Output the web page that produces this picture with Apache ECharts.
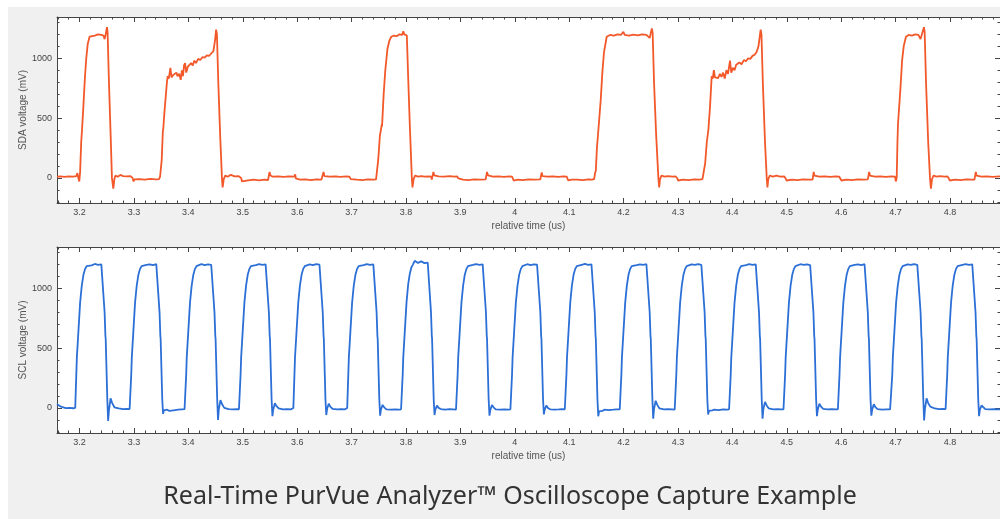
<!DOCTYPE html>
<html>
<head>
<meta charset="utf-8">
<script src="https://cdn.jsdelivr.net/npm/echarts@6/dist/echarts.min.js"></script>
<style>
html,body{margin:0;padding:0;background:#ffffff;}
#panel{position:absolute;left:8px;top:7px;width:992px;height:512px;background:#f0f0f0;}
#chart{position:absolute;left:0;top:0;width:1000px;height:519px;}
</style>
</head>
<body>
<div id="panel"></div>
<div id="chart"></div>
<script>
// ---- data ----
const titleText = 'Real-Time PurVue Analyzer\u2122 Oscilloscope Capture Example';
const sdaName = 'SDA voltage (mV)';
const sclName = 'SCL voltage (mV)';
const timeName = 'relative time (us)';
const timeRange = [3.1585, 4.892];
const voltRange = [-210, 1345];

const sdaPoints = [
[3.1585,10],[3.165,12],[3.172,8],[3.180,12],[3.188,10],[3.194,14],[3.196,40],[3.1975,5],[3.1995,-30],[3.201,50],[3.203,300],[3.2045,400],[3.205,390],[3.207,600],[3.210,850],[3.2123,1000],[3.215,1120],[3.2184,1180],[3.222,1195],[3.228,1190],[3.234,1200],[3.240,1195],[3.244,1190],[3.246,1160],[3.248,1200],[3.2503,1260],[3.2515,1220],[3.254,800],[3.2575,300],[3.2595,0],[3.262,-90],[3.264,-10],[3.266,20],[3.270,10],[3.275,25],[3.280,15],[3.287,12],[3.293,15],[3.296,30],[3.2975,0],[3.2992,-30],[3.301,-12],[3.310,-10],[3.320,-15],[3.330,-8],[3.340,-12],[3.346,-10],
[3.348,10],[3.351,150],[3.353,380],[3.354,420],[3.356,550],[3.3606,800],[3.362,850],[3.364,830],[3.367,920],[3.369,840],[3.372,860],[3.375,845],[3.378,880],[3.380,850],[3.383,870],[3.386,820],[3.388,900],[3.390,850],[3.392,940],[3.394,960],[3.396,880],[3.399,930],[3.402,920],[3.405,960],[3.408,940],[3.411,980],[3.414,960],[3.418,995],[3.422,985],[3.426,1010],[3.430,1005],[3.434,1025],[3.438,1020],[3.442,1040],[3.446,1060],[3.449,1150],[3.451,1240],[3.4525,1200],[3.455,800],[3.4585,350],[3.4617,0],[3.463,-80],[3.465,-10],[3.468,20],[3.472,10],[3.478,25],[3.485,12],[3.492,15],[3.4953,30],[3.497,0],[3.4985,-30],[3.500,-15],[3.510,-20],[3.520,-15],[3.530,-20],[3.540,-15],[3.5465,-18],[3.5475,-25],[3.5492,50],[3.551,20],[3.555,10],[3.565,12],[3.575,8],[3.585,12],[3.5945,10],[3.5964,30],[3.5975,-5],[3.599,-20],[3.605,-15],[3.615,-12],[3.625,-18],[3.635,-12],[3.6445,-15],[3.6455,-25],[3.6485,50],[3.650,15],[3.660,10],[3.670,12],[3.680,8],[3.690,12],[3.696,10],[3.6974,25],[3.6985,-10],[3.700,-22],[3.710,-15],[3.720,-18],[3.730,-12],[3.740,-15],[3.745,-12],
[3.7465,0],[3.749,150],[3.752,350],[3.7557,450],[3.756,430],[3.759,700],[3.762,900],[3.766,1080],[3.7697,1150],[3.773,1180],[3.778,1190],[3.783,1185],[3.788,1200],[3.791,1215],[3.793,1195],[3.795,1225],[3.797,1200],[3.799,1215],[3.8016,1190],[3.804,850],[3.807,450],[3.8108,0],[3.812,-80],[3.814,-10],[3.817,20],[3.822,10],[3.828,15],[3.835,10],[3.842,12],[3.8465,10],[3.8475,-15],[3.8505,50],[3.852,20],[3.860,12],[3.870,10],[3.880,14],[3.889,10],[3.894,12],[3.8955,25],[3.8964,-5],[3.898,-20],[3.905,-15],[3.915,-18],[3.925,-12],[3.935,-15],[3.9465,-12],[3.9473,-20],[3.949,50],[3.951,20],[3.960,10],[3.970,12],[3.980,8],[3.990,12],[3.995,10],[3.9964,-5],[3.998,-22],[4.005,-15],[4.015,-18],[4.025,-12],[4.035,-15],[4.047,-12],[4.048,-20],[4.0495,45],[4.051,15],[4.060,10],[4.070,12],[4.080,8],[4.090,12],[4.0955,10],[4.0968,20],[4.098,-20],[4.105,-15],[4.115,-15],[4.125,-18],[4.135,-12],[4.142,-15],[4.146,-10],[4.1475,40],
[4.149,60],[4.151,250],[4.1537,400],[4.155,410],[4.158,650],[4.161,880],[4.164,1050],[4.169,1180],[4.175,1195],[4.182,1190],[4.189,1200],[4.195,1195],[4.1997,1222],[4.202,1195],[4.210,1190],[4.218,1198],[4.226,1192],[4.234,1200],[4.242,1195],[4.2456,1190],[4.248,1170],[4.250,1210],[4.252,1250],[4.2535,1210],[4.256,800],[4.260,350],[4.264,0],[4.2655,-80],[4.267,-10],[4.270,20],[4.275,10],[4.282,15],[4.290,10],[4.296,12],[4.2978,25],[4.299,-5],[4.300,-22],[4.310,-15],[4.320,-18],[4.330,-12],[4.340,-15],[4.345,-10],
[4.3467,5],[4.350,120],[4.353,300],[4.3559,400],[4.357,390],[4.359,600],[4.362,850],[4.364,830],[4.366,900],[4.368,840],[4.371,855],[4.374,835],[4.377,870],[4.380,845],[4.383,880],[4.386,830],[4.389,900],[4.392,870],[4.3957,980],[4.398,880],[4.401,920],[4.404,900],[4.407,945],[4.410,930],[4.413,965],[4.417,950],[4.421,985],[4.425,975],[4.429,1000],[4.433,995],[4.437,1020],[4.441,1030],[4.4448,1055],[4.448,1100],[4.452,1240],[4.4535,1200],[4.456,800],[4.460,300],[4.4632,0],[4.4645,-80],[4.466,-10],[4.469,20],[4.474,10],[4.481,18],[4.488,10],[4.4955,12],[4.4968,28],[4.498,-5],[4.4995,-22],[4.510,-15],[4.520,-18],[4.530,-12],[4.540,-15],[4.5475,-15],[4.548,-22],[4.5495,50],[4.551,18],[4.560,10],[4.570,12],[4.580,8],[4.590,12],[4.5965,10],[4.5978,25],[4.599,-5],[4.6005,-22],[4.610,-15],[4.620,-18],[4.630,-12],[4.640,-15],[4.649,-12],[4.650,-22],[4.6515,50],[4.653,18],[4.662,10],[4.672,12],[4.682,8],[4.692,12],[4.699,10],[4.7005,-30],[4.7021,0],
[4.7035,300],[4.7045,450],[4.706,440],[4.709,750],[4.712,980],[4.715,1100],[4.7191,1180],[4.724,1195],[4.730,1190],[4.736,1200],[4.742,1195],[4.7448,1195],[4.746,1160],[4.749,1210],[4.7522,1260],[4.7535,1220],[4.756,800],[4.760,300],[4.7633,0],[4.765,-90],[4.767,-10],[4.770,20],[4.775,10],[4.782,15],[4.790,10],[4.7955,12],[4.7969,25],[4.798,-5],[4.7995,-22],[4.810,-15],[4.820,-18],[4.830,-12],[4.840,-15],[4.845,-15],[4.8459,-22],[4.8475,50],[4.849,18],[4.858,10],[4.868,12],[4.878,8],[4.892,12]
];

const sclPoints = [
[3.1585,30],[3.162,25],[3.166,10],[3.170,5],[3.175,-2],[3.182,0],[3.188,-3],
[3.191,-5],[3.192,0],[3.194,280],[3.195,420],[3.1955,410],[3.198,650],[3.201,880],[3.204,1020],[3.207,1110],[3.210,1160],[3.213,1185],[3.216,1198],[3.222,1192],[3.228,1203],[3.234,1195],[3.240,1200],[3.243,1196],[3.246,800],[3.2475,600],[3.248,580],[3.251,70],[3.2525,-110],[3.254,-20],[3.257,80],[3.260,40],[3.264,5],[3.272,-5],[3.280,-10],[3.287,-8],
[3.292,-10],[3.293,0],[3.295,280],[3.296,420],[3.2965,410],[3.299,650],[3.302,880],[3.305,1020],[3.308,1110],[3.311,1160],[3.314,1185],[3.317,1198],[3.323,1195],[3.329,1200],[3.335,1193],[3.341,1202],[3.344,1195],[3.347,800],[3.3485,600],[3.349,580],[3.352,70],[3.3535,-50],[3.355,-20],[3.358,-35],[3.361,-15],[3.365,-25],[3.373,-20],[3.381,-15],[3.388,-12],
[3.393,-10],[3.394,0],[3.396,280],[3.397,420],[3.3975,410],[3.400,650],[3.403,880],[3.406,1020],[3.409,1110],[3.412,1160],[3.415,1185],[3.418,1198],[3.424,1202],[3.430,1194],[3.436,1200],[3.442,1196],[3.445,1198],[3.448,800],[3.4495,600],[3.450,580],[3.453,70],[3.4545,-100],[3.456,-10],[3.459,65],[3.462,30],[3.466,0],[3.474,-10],[3.482,-12],[3.489,-10],
[3.493,-12],[3.494,0],[3.496,280],[3.497,420],[3.4975,410],[3.500,650],[3.503,880],[3.506,1020],[3.509,1110],[3.512,1160],[3.515,1185],[3.518,1198],[3.524,1193],[3.530,1201],[3.536,1196],[3.542,1200],[3.545,1195],[3.548,800],[3.5495,600],[3.550,580],[3.553,70],[3.5545,-70],[3.556,-15],[3.559,40],[3.562,15],[3.566,-5],[3.574,-12],[3.582,-10],[3.589,-12],
[3.592,-12],[3.593,0],[3.595,280],[3.596,420],[3.5965,410],[3.599,650],[3.602,880],[3.605,1020],[3.608,1110],[3.611,1160],[3.614,1185],[3.617,1198],[3.623,1200],[3.629,1194],[3.635,1202],[3.641,1197],[3.644,1198],[3.647,800],[3.6485,600],[3.649,580],[3.652,70],[3.6535,-60],[3.655,-10],[3.658,35],[3.661,10],[3.665,-8],[3.673,-12],[3.681,-10],[3.688,-12],
[3.691,-14],[3.692,0],[3.694,280],[3.695,420],[3.6955,410],[3.698,650],[3.701,880],[3.704,1020],[3.707,1110],[3.710,1160],[3.713,1185],[3.716,1198],[3.722,1194],[3.728,1201],[3.734,1195],[3.740,1200],[3.743,1196],[3.746,800],[3.7475,600],[3.748,580],[3.751,70],[3.7525,-65],[3.754,-15],[3.757,25],[3.760,5],[3.764,-12],[3.772,-15],[3.780,-12],[3.787,-14],
[3.791,-12],[3.792,0],[3.794,280],[3.795,420],[3.7955,410],[3.798,650],[3.801,880],[3.804,1030],[3.807,1120],[3.810,1175],[3.813,1200],[3.816,1230],[3.822,1212],[3.828,1225],[3.834,1210],[3.840,1215],[3.843,1205],[3.846,800],[3.8475,600],[3.848,580],[3.851,70],[3.8525,-60],[3.854,-15],[3.857,20],[3.860,0],[3.864,-10],[3.872,-15],[3.880,-10],[3.887,-12],
[3.892,-14],[3.893,0],[3.895,280],[3.896,420],[3.8965,410],[3.899,650],[3.902,880],[3.905,1020],[3.908,1110],[3.911,1160],[3.914,1185],[3.917,1198],[3.923,1195],[3.929,1202],[3.935,1196],[3.941,1200],[3.944,1195],[3.947,800],[3.9485,600],[3.949,580],[3.952,70],[3.9535,-65],[3.955,-20],[3.958,25],[3.961,5],[3.965,-12],[3.973,-15],[3.981,-12],[3.988,-14],
[3.992,-12],[3.993,0],[3.995,280],[3.996,420],[3.9965,410],[3.999,650],[4.002,880],[4.005,1020],[4.008,1110],[4.011,1160],[4.014,1185],[4.017,1198],[4.023,1201],[4.029,1194],[4.035,1200],[4.041,1197],[4.044,1196],[4.047,800],[4.0485,600],[4.049,580],[4.052,70],[4.0535,-55],[4.055,-15],[4.058,20],[4.061,0],[4.065,-12],[4.073,-14],[4.081,-12],[4.088,-10],
[4.092,-12],[4.093,0],[4.095,280],[4.096,420],[4.0965,410],[4.099,650],[4.102,880],[4.105,1020],[4.108,1110],[4.111,1160],[4.114,1185],[4.117,1198],[4.123,1196],[4.129,1203],[4.135,1195],[4.141,1200],[4.144,1196],[4.147,800],[4.1485,600],[4.149,580],[4.152,70],[4.1535,-70],[4.155,-30],[4.158,-20],[4.161,-25],[4.165,-15],[4.173,-18],[4.181,-15],[4.188,-12],
[4.193,-12],[4.194,0],[4.196,280],[4.197,420],[4.1975,410],[4.200,650],[4.203,880],[4.206,1020],[4.209,1110],[4.212,1160],[4.215,1185],[4.218,1198],[4.224,1193],[4.230,1200],[4.236,1195],[4.242,1201],[4.245,1196],[4.248,800],[4.2495,600],[4.250,580],[4.253,70],[4.2545,-90],[4.256,-10],[4.259,60],[4.262,25],[4.266,-5],[4.274,-12],[4.282,-10],[4.289,-12],
[4.294,-14],[4.295,0],[4.297,280],[4.298,420],[4.2985,410],[4.301,650],[4.304,880],[4.307,1020],[4.310,1110],[4.313,1160],[4.316,1185],[4.319,1198],[4.325,1200],[4.331,1195],[4.337,1202],[4.343,1196],[4.346,1198],[4.349,800],[4.3505,600],[4.351,580],[4.354,70],[4.3555,-55],[4.357,-25],[4.360,-15],[4.363,-20],[4.367,-15],[4.375,-18],[4.383,-12],[4.390,-14],
[4.394,-12],[4.395,0],[4.397,280],[4.398,420],[4.3985,410],[4.401,650],[4.404,880],[4.407,1020],[4.410,1110],[4.413,1160],[4.416,1185],[4.419,1198],[4.425,1194],[4.431,1201],[4.437,1196],[4.443,1200],[4.446,1195],[4.449,800],[4.4505,600],[4.451,580],[4.454,70],[4.4555,-90],[4.457,-10],[4.460,50],[4.463,20],[4.467,-5],[4.475,-12],[4.483,-10],[4.490,-12],
[4.494,-12],[4.495,0],[4.497,280],[4.498,420],[4.4985,410],[4.501,650],[4.504,880],[4.507,1020],[4.510,1110],[4.513,1160],[4.516,1185],[4.519,1198],[4.525,1201],[4.531,1195],[4.537,1200],[4.543,1194],[4.546,1197],[4.549,800],[4.5505,600],[4.551,580],[4.554,70],[4.5555,-70],[4.557,-15],[4.560,35],[4.563,10],[4.567,-8],[4.575,-12],[4.583,-10],[4.590,-12],
[4.594,-12],[4.595,0],[4.597,280],[4.598,420],[4.5985,410],[4.601,650],[4.604,880],[4.607,1020],[4.610,1110],[4.613,1160],[4.616,1185],[4.619,1198],[4.625,1195],[4.631,1200],[4.637,1194],[4.643,1201],[4.646,1196],[4.649,800],[4.6505,600],[4.651,580],[4.654,70],[4.6555,-65],[4.657,-15],[4.660,30],[4.663,5],[4.667,-10],[4.675,-14],[4.683,-12],[4.690,-12],
[4.691,-10],[4.692,0],[4.694,280],[4.695,420],[4.6955,410],[4.698,650],[4.701,880],[4.704,1020],[4.707,1110],[4.710,1160],[4.713,1185],[4.716,1198],[4.722,1200],[4.728,1195],[4.734,1202],[4.740,1196],[4.743,1198],[4.746,800],[4.7475,600],[4.748,580],[4.751,70],[4.7525,-105],[4.754,-10],[4.757,80],[4.760,40],[4.764,10],[4.772,-5],[4.780,-10],[4.787,-8],
[4.792,-10],[4.793,0],[4.795,280],[4.796,420],[4.7965,410],[4.799,650],[4.802,880],[4.805,1020],[4.808,1110],[4.811,1160],[4.814,1185],[4.817,1198],[4.823,1195],[4.829,1201],[4.835,1196],[4.841,1200],[4.844,1195],[4.847,800],[4.8485,600],[4.849,580],[4.852,70],[4.8535,-70],[4.855,-15],[4.858,20],[4.861,5],[4.865,-10],[4.873,-12],[4.881,-10],[4.888,-12],[4.892,-12]
];

// ---- chart ----
const chart = echarts.init(document.getElementById('chart'));
const labelFont = {fontSize: 9, color: '#444', fontFamily: 'Liberation Sans, Arial, sans-serif'};
const nameFont = {fontSize: 10, color: '#555', fontFamily: 'Liberation Sans, Arial, sans-serif'};
const frameLine = {show: true, onZero: false, lineStyle: {color: '#444', width: 1}};
const tickStyle = {inside: true, length: 5, lineStyle: {color: '#444'}};
const minorStyle = {show: true, splitNumber: 5, length: 2.5, lineStyle: {color: '#444'}};

function xAxes(gridIndex) {
  return [
    {type: 'value', gridIndex, position: 'bottom', min: timeRange[0], max: timeRange[1], splitNumber: 17,
     axisLine: frameLine, splitLine: {show: false}, axisTick: tickStyle, minorTick: minorStyle,
     axisLabel: Object.assign({margin: 5, showMinLabel: false, showMaxLabel: false,
       formatter: v => String(Math.round(v * 10) / 10)}, labelFont),
     name: timeName, nameLocation: 'middle', nameGap: 18, nameTextStyle: nameFont},
    {type: 'value', gridIndex, position: 'top', min: timeRange[0], max: timeRange[1], splitNumber: 17,
     axisLine: frameLine, splitLine: {show: false}, axisTick: tickStyle, minorTick: minorStyle,
     axisLabel: {show: false}}
  ];
}
function yAxes(gridIndex, name) {
  return [
    {type: 'value', gridIndex, position: 'left', min: voltRange[0], max: voltRange[1], splitNumber: 3,
     axisLine: frameLine, splitLine: {show: false}, axisTick: tickStyle, minorTick: minorStyle,
     axisLabel: Object.assign({margin: 5, showMinLabel: false, showMaxLabel: false,
       formatter: v => String(Math.round(v))}, labelFont),
     name: name, nameLocation: 'middle', nameGap: 29, nameMoveOverlap: false, nameTextStyle: nameFont},
    {type: 'value', gridIndex, position: 'right', min: voltRange[0], max: voltRange[1], splitNumber: 3,
     axisLine: frameLine, splitLine: {show: false}, axisTick: tickStyle, minorTick: minorStyle,
     axisLabel: {show: false}}
  ];
}

chart.setOption({
  animation: false,
  backgroundColor: 'transparent',
  grid: [
    {left: 57, top: 17, right: 0, height: 186, show: true, backgroundColor: '#ffffff', borderWidth: 0},
    {left: 57, top: 247, right: 0, height: 186, show: true, backgroundColor: '#ffffff', borderWidth: 0}
  ],
  xAxis: [].concat(xAxes(0), xAxes(1)),
  yAxis: [].concat(yAxes(0, sdaName), yAxes(1, sclName)),
  series: [
    {type: 'line', name: 'SDA', xAxisIndex: 0, yAxisIndex: 0, data: sdaPoints, showSymbol: false,
     lineStyle: {color: '#f2582a', width: 1.8}, itemStyle: {color: '#f2582a'}},
    {type: 'line', name: 'SCL', xAxisIndex: 2, yAxisIndex: 2, data: sclPoints, showSymbol: false,
     lineStyle: {color: '#2c6fd6', width: 1.8}, itemStyle: {color: '#2c6fd6'}}
  ],
  graphic: [
    {type: 'text', x: 510, y: 497, style: {text: titleText, fontSize: 25, fill: '#333333',
      align: 'center', verticalAlign: 'middle', fontFamily: 'Noto Sans, Open Sans, sans-serif'}}
  ]
});
</script>
</body>
</html>
